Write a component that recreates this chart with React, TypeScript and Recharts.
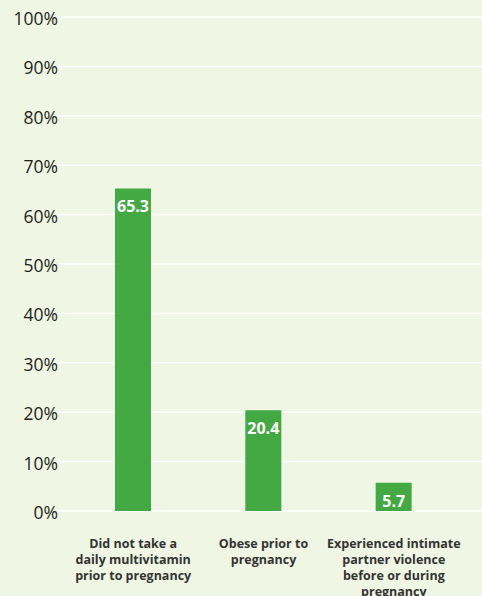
import { BarChart, Bar, XAxis, YAxis, CartesianGrid, LabelList } from 'recharts';

const categories = [
    'Did not take a daily multivitamin prior to pregnancy',
    'Obese prior to pregnancy',
    'Experienced intimate partner violence before or during pregnancy',
];
const categoryLines = [
    ['Did not take a', 'daily multivitamin', 'prior to pregnancy'],
    ['Obese prior to', 'pregnancy'],
    ['Experienced intimate', 'partner violence', 'before or during', 'pregnancy'],
];
const percents = [65.3, 20.4, 5.7];
const yTicks = [0, 10, 20, 30, 40, 50, 60, 70, 80, 90, 100];

const data = categories.map((name, i) => ({ name, idx: i, value: percents[i] }));

const FONT = '"Open Sans", "Noto Sans", sans-serif';

function CategoryTick({ x, y, payload }: any) {
    const lines = categoryLines[payload.index] || [payload.value];
    return (
        <text x={x} y={y} textAnchor="middle" fill="#333" fontFamily={FONT} fontSize={12.5} fontWeight={700}>
            {lines.map((line, i) => (
                <tspan key={i} x={x} dy={i === 0 ? 29 : 16}>{line}</tspan>
            ))}
        </text>
    );
}

function PercentTick({ x, y, payload }: any) {
    return (
        <text x={x} y={y} dy={8} textAnchor="end" fill="#231f20" fontFamily={FONT} fontSize={17.5}>
            {`${payload.value}%`}
        </text>
    );
}

function ValueLabel({ x, y, width, value }: any) {
    return (
        <text x={x + width / 2} y={y + 24} textAnchor="middle" fill="#fff" fontFamily={FONT} fontSize={16} fontWeight={700}>
            {value}
        </text>
    );
}

export default function App() {
    return (
        <div style={{ position: 'fixed', left: 0, top: 0, width: 482, height: 596, background: '#eff6e3' }}>
            <BarChart width={482} height={596} data={data} margin={{ top: 17, right: 0, bottom: 0, left: 0 }}>
                <CartesianGrid stroke="#ffffff" strokeWidth={1.5} vertical={false} />
                <XAxis
                    dataKey="name"
                    axisLine={false}
                    tickLine={false}
                    interval={0}
                    height={85}
                    padding={{ left: 10, right: 23 }}
                    tick={<CategoryTick />}
                />
                <YAxis
                    domain={[0, 100]}
                    ticks={yTicks}
                    axisLine={false}
                    tickLine={false}
                    tickSize={0}
                    tickMargin={0}
                    width={58}
                    tick={<PercentTick />}
                />
                <Bar dataKey="value" fill="#43a943" barSize={36} isAnimationActive={false}>
                    <LabelList dataKey="value" content={<ValueLabel />} />
                </Bar>
            </BarChart>
        </div>
    );
}
